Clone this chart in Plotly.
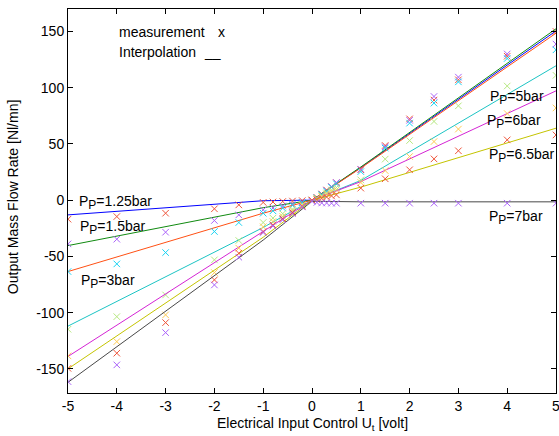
import plotly.graph_objects as go

# ---- data ----
x_meas = [-5, -4, -3, -2, -1.5, -1, -0.8, -0.6, -0.4, -0.2, 0, 0.1, 0.2, 0.3, 0.4, 0.5, 1, 1.5, 2, 2.5, 3, 4, 5]

y_blue = [-16.9, -14.6, -11.6, -7.7, -4.2, -2.0, -1.6, -1.2, -0.8, -0.4, 0, 2.5, 5.5, 9, 12, 15.5, 27, 48.6, 72.3, 89, 107, 128, 150]
y_green = [-38.9, -34.7, -28.5, -18.1, -13.1, -8.6, -7.0, -5.2, -3.5, -1.8, 0, 2, 5, 8.5, 12, 15.7, 27.5, 47.5, 71, 92.2, 109.4, 130, 138.8]
y_orange = [-63.5, -56.7, -46.6, -27.9, -19.9, -11.6, -9.5, -7.0, -4.6, -2.3, 0, 2, 5, 8, 11.5, 14.5, 25.4, 46.3, 68.5, 86.3, 105.2, 126, 133.7]
y_cyan = [-114.8, -103.6, -84.3, -53.1, -35.9, -19.9, -16, -12, -8, -4, 0, 1.5, 4, 6.5, 9, 11.2, 18, 36.5, 53, 70, 83.9, 101.5, 111]
y_magenta = [-138.5, -125.8, -102, -64.4, -42.7, -23.7, -19, -14.5, -9.5, -4.8, 0, 1.2, 3.2, 5.5, 7.5, 9.2, 15.7, 26.3, 38.8, 52.1, 63.2, 77, 82]
y_yellow = [-149.6, -136.1, -108.9, -70.9, -47.2, -28, -22, -16.5, -11, -5.5, 0, 0.5, 1.5, 2.8, 3.8, 4.7, 10.7, 19, 27, 36.7, 43.9, 53.6, 58]
y_gray = [-161.4, -146.5, -117.8, -75.4, -50.7, -28.8, -23, -17.5, -12, -6, -1, -2, -2.5, -2.5, -2.7, -2.7, -2.7, -2.7, -2.7, -2.7, -2.7, -2.7, -2.7]

x_line = [-5, -1, 0, 1, 5]
l_blue = [-13.1, -0.5, 0, 29, 150.5]
l_green = [-40.4, -6.7, 0, 29.5, 152.4]
l_orange = [-63.5, -11.6, 0, 28.5, 148.5]
l_cyan = [-112, -24.3, 0, 17.5, 119.5]
l_magenta = [-139, -28.2, 0, 16.5, 97.2]
l_yellow = [-150, -33, 0, 11.6, 64]
l_gray = [-162, -35.5, -1, -1.5, -1.5]

x_ticks = [-5, -4, -3, -2, -1, 0, 1, 2, 3, 4, 5]
x_ticktext = ["-5", "-4", "-3", "-2", "-1", "0", "1", "2", "3", "4", "5"]
y_ticks = [-150, -100, -50, 0, 50, 100, 150]
y_ticktext = ["-150", "-100", "-50", "0", "50", "100", "150"]

series = [
    ("1.25bar", y_blue, l_blue, "#0000ff"),
    ("1.5bar", y_green, l_green, "#108a10"),
    ("3bar", y_orange, l_orange, "#ff5014"),
    ("5bar", y_cyan, l_cyan, "#1cc4c4"),
    ("6bar", y_magenta, l_magenta, "#d424d4"),
    ("6.5bar", y_yellow, l_yellow, "#c4c400"),
    ("7bar", y_gray, l_gray, "#484848"),
]

FONT = "Liberation Sans, Arial, Helvetica, sans-serif"

fig = go.Figure()
for name, ym, yl, col in series:
    fig.add_trace(go.Scatter(x=x_line, y=yl, mode="lines", line=dict(color=col, width=1),
                             showlegend=False, hoverinfo="skip"))
    fig.add_trace(go.Scatter(x=x_meas, y=ym, mode="markers",
                             marker=dict(symbol="x-thin-open", size=6.5, line=dict(color=col, width=1)),
                             showlegend=False, name=name))

SUBP = "P<sub><span style='font-size:12px'>P</span></sub>"
ann = []
# series labels
labels = [
    (SUBP + "=1.25bar", -4.81, 0.3),
    (SUBP + "=1.5bar", -4.79, -22),
    (SUBP + "=3bar", -4.77, -69.4),
    (SUBP + "=5bar", 3.61, 93.7),
    (SUBP + "=6bar", 3.55, 72.3),
    (SUBP + "=6.5bar", 3.59, 42.1),
    (SUBP + "=7bar", 3.59, -13.1),
]
for t, xa, ya in labels:
    ann.append(dict(x=xa, y=ya, xref="x", yref="y", text=t, showarrow=False,
                    xanchor="left", yanchor="middle", yshift=-3, font=dict(size=14, color="black", family=FONT)))

# legend-like text
ann.append(dict(x=-4.0, y=149.5, xref="x", yref="y", text="measurement", showarrow=False,
                xanchor="left", yanchor="middle", font=dict(size=14, color="black", family=FONT)))
ann.append(dict(x=-1.85, y=149.5, xref="x", yref="y", text="x", showarrow=False,
                xanchor="center", yanchor="middle", font=dict(size=14, color="black", family=FONT)))
ann.append(dict(x=-3.99, y=132.2, xref="x", yref="y", text="Interpolation", showarrow=False,
                xanchor="left", yanchor="middle", font=dict(size=14, color="black", family=FONT)))
ann.append(dict(x=-2.04, y=132.2, xref="x", yref="y", text="__", showarrow=False,
                xanchor="center", yanchor="middle", font=dict(size=14, color="black", family=FONT)))

# axis titles
ann.append(dict(x=0.5, y=0, xref="paper", yref="paper", yshift=-31, text="Electrical Input Control U<sub>t</sub> [volt]",
                showarrow=False, xanchor="center", yanchor="middle", font=dict(size=14, color="black", family=FONT)))
ann.append(dict(x=0, y=0.51, xref="paper", yref="paper", xshift=-55, text="Output Mass Flow Rate [Nl/mn]",
                showarrow=False, textangle=-90, xanchor="center", yanchor="middle", font=dict(size=14, color="black", family=FONT)))

axis_common = dict(showgrid=False, zeroline=False, showline=True, mirror="allticks", linecolor="black",
                   linewidth=1, ticks="inside", ticklen=5, tickcolor="black", tickwidth=1, automargin=False,
                   ticklabeloverflow="allow",
                   tickfont=dict(size=14, color="black", family=FONT))

fig.update_layout(
    width=559, height=436,
    margin=dict(l=68, r=3, t=9, b=43, autoexpand=False),
    paper_bgcolor="white", plot_bgcolor="white",
    xaxis=dict(range=[-5, 5], tickvals=x_ticks, ticktext=x_ticktext, **axis_common),
    yaxis=dict(range=[-171.5, 170], tickvals=y_ticks, ticktext=y_ticktext, **axis_common),
    annotations=ann,
    showlegend=False,
)

fig.write_html("out.html", config={"displayModeBar": False},
               post_script="document.body.style.margin='0';document.body.style.overflow='hidden';")
